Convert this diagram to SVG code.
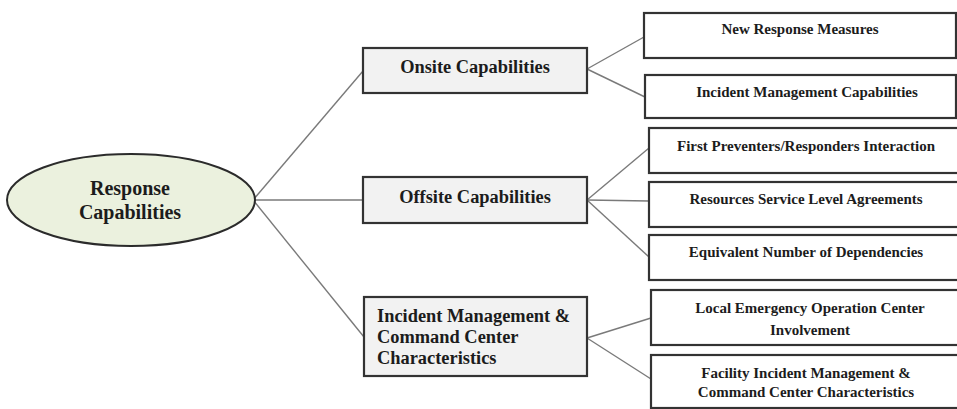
<svg xmlns="http://www.w3.org/2000/svg" width="957" height="409" viewBox="0 0 957 409">
  <style>
    .edge { stroke: #7a7a7a; stroke-width: 1.4; fill: none; }
    .root { fill: #ebf1de; stroke: #2b2b2b; stroke-width: 2; }
    .mid { fill: #f2f2f2; stroke: #333333; stroke-width: 2.2; }
    .leaf { fill: #ffffff; stroke: #333333; stroke-width: 2.2; }
    text { font-family: "Liberation Serif", "Times New Roman", serif; font-weight: bold; fill: #1c1c1c; }
    .t-root { font-size: 20px; text-anchor: middle; }
    .t-mid { font-size: 18.4px; }
    .t-leaf { font-size: 15px; text-anchor: middle; }
  </style>
  <rect width="957" height="409" fill="#ffffff"/>

  <g id="connectors">
    <line class="edge" x1="253" y1="200" x2="363" y2="71"/>
    <line class="edge" x1="253" y1="200" x2="363" y2="200"/>
    <line class="edge" x1="253" y1="200" x2="364" y2="337"/>
    <line class="edge" x1="587" y1="69" x2="644" y2="37"/>
    <line class="edge" x1="587" y1="69" x2="645" y2="97"/>
    <line class="edge" x1="587" y1="200" x2="649" y2="148"/>
    <line class="edge" x1="587" y1="200" x2="649" y2="201"/>
    <line class="edge" x1="587" y1="200" x2="649" y2="257"/>
    <line class="edge" x1="587" y1="338" x2="651" y2="318"/>
    <line class="edge" x1="587" y1="338" x2="651" y2="379"/>
  </g>

  <g id="response-capabilities">
    <ellipse class="root" cx="131" cy="200" rx="124" ry="46"/>
    <text class="t-root" x="130" y="195">Response</text>
    <text class="t-root" x="130" y="219">Capabilities</text>
  </g>

  <g id="onsite-capabilities">
    <rect class="mid" x="363" y="48" width="224" height="45"/>
    <text class="t-mid" x="475" y="73" text-anchor="middle">Onsite Capabilities</text>
  </g>

  <g id="offsite-capabilities">
    <rect class="mid" x="363" y="177" width="224" height="46"/>
    <text class="t-mid" x="475" y="203" text-anchor="middle">Offsite Capabilities</text>
  </g>

  <g id="incident-command-center">
    <rect class="mid" x="364" y="297" width="223" height="79"/>
    <text class="t-mid" x="377" y="322">Incident Management &amp;</text>
    <text class="t-mid" x="377" y="343">Command Center</text>
    <text class="t-mid" x="377" y="364">Characteristics</text>
  </g>

  <g id="new-response-measures">
    <rect class="leaf" x="644" y="13" width="312" height="45"/>
    <text class="t-leaf" x="800" y="34">New Response Measures</text>
  </g>

  <g id="incident-management-capabilities">
    <rect class="leaf" x="645" y="75" width="311" height="43"/>
    <text class="t-leaf" x="807" y="97">Incident Management Capabilities</text>
  </g>

  <g id="first-preventers">
    <rect class="leaf" x="649" y="128" width="320" height="45"/>
    <text class="t-leaf" x="806" y="151">First Preventers/Responders Interaction</text>
  </g>

  <g id="resources-sla">
    <rect class="leaf" x="649" y="182" width="320" height="45"/>
    <text class="t-leaf" x="806" y="204">Resources Service Level Agreements</text>
  </g>

  <g id="equivalent-dependencies">
    <rect class="leaf" x="649" y="235" width="320" height="45"/>
    <text class="t-leaf" x="806" y="257">Equivalent Number of Dependencies</text>
  </g>

  <g id="local-eoc">
    <rect class="leaf" x="651" y="290" width="320" height="55"/>
    <text class="t-leaf" x="810" y="313">Local Emergency Operation Center</text>
    <text class="t-leaf" x="810" y="335">Involvement</text>
  </g>

  <g id="facility-command-center">
    <rect class="leaf" x="651" y="355" width="320" height="53"/>
    <text class="t-leaf" x="806" y="378">Facility Incident Management &amp;</text>
    <text class="t-leaf" x="806" y="397">Command Center Characteristics</text>
  </g>
</svg>
